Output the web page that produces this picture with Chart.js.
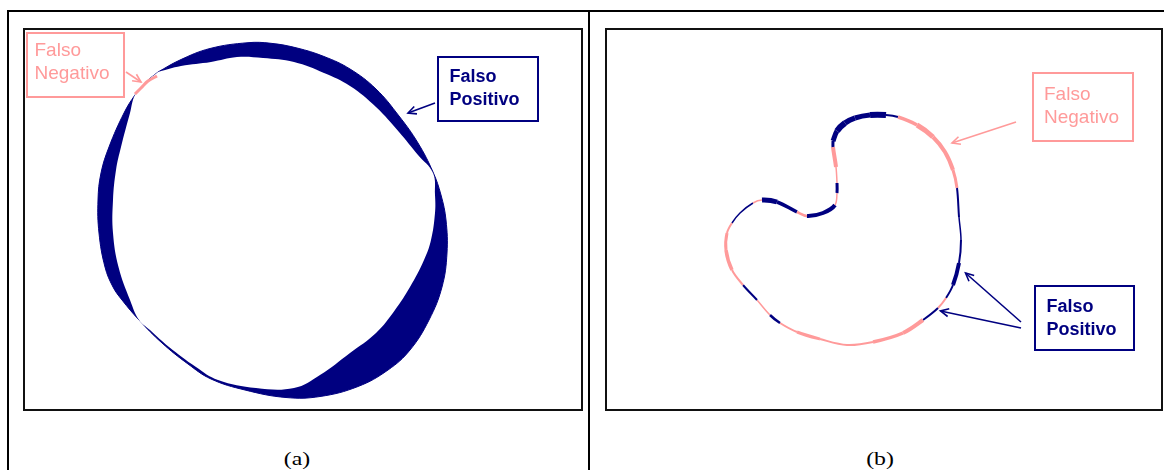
<!DOCTYPE html>
<html><head><meta charset="utf-8">
<script src="https://cdn.jsdelivr.net/npm/chart.js@4"></script>
<style>
html,body{margin:0;padding:0;background:#fff;}
body{width:1164px;height:470px;overflow:hidden;position:relative;}
.rule{position:absolute;background:#000;}
.frame{position:absolute;box-sizing:border-box;border:2px solid #111;}
canvas{position:absolute;}
.box{position:absolute;box-sizing:border-box;border:2px solid;font-family:"Liberation Sans",Arial,sans-serif;line-height:23px;white-space:nowrap;}
.fn{color:#FF9A9A;border-color:#FF9A9A;font-size:19px;}
.fp{color:#000080;border-color:#000080;font-size:18px;font-weight:bold;}
.cap{position:absolute;width:100px;text-align:center;font-family:"Liberation Serif","Times New Roman",serif;font-size:19px;line-height:20px;transform:scaleX(1.25);}
</style>
</head><body>
<div class="rule" style="left:7px;top:10px;width:1157px;height:2px"></div>
<div class="rule" style="left:7px;top:10px;width:2px;height:460px"></div>
<div class="rule" style="left:588px;top:10px;width:2px;height:460px"></div>
<div class="frame" style="left:23px;top:28px;width:560px;height:383px"></div>
<div class="frame" style="left:605px;top:28px;width:558px;height:383px"></div>
<canvas id="chartA" width="556" height="379" style="left:25px;top:30px"></canvas>
<canvas id="chartB" width="554" height="379" style="left:607px;top:30px"></canvas>
<div id="labels"></div>
<script>
// ---------- data (image pixel coordinates) ----------
// Panel (a): outer contour of the segmentation (false-positive band edge)
const aOuterX = [158,180,210,248,271,297,324,350,376,399,418,433,441,446,447,442,429,410,388,358,320,286,245,211,188,162,139,122,113,105,99,98,101,109,124,135,146,158];
const aOuterY = [72,60,48.5,42.7,43.3,48,56.5,69,89,116,143,172,195,220,253,287,320,350,370,386.5,396.5,397.5,390,379,364,343,320,300,287,267,233,200,173,147,113,95,82,72];
// Panel (a): inner contour (reference region edge)
const aInnerX = [158,181,211,237,263,294,324,350,376,399,418,433,435,435,431,424,410,395,376,350,320,294,256,218,196,169,150,139,130,118.5,113,113,116,121,130,135,146,158];
const aInnerY = [72,66,62,57,58,62,73,86,107,132,155,173,195,213,240,260,287,310,333,353,375,388,388,380,367,347,330,320,300,267,233,200,170,147,113,95,82,72];
// Panel (a): false-negative sliver
const aFalseNegX = [135,141,148,157];
const aFalseNegY = [94,88,81,76];

// Panel (b): contour points and per-segment error class / band width
const bContourX = [833,837,845,855,870,886,898,917,933,945,953,957,959,961,959,953,946,938,923,903,873,847,820,797,780,770,757,743,732,726,727,732,740,753,762,777,797,807,823,835,837,837,836,833,833];
const bContourY = [141,131,123,118,115,115,117,125,137,152,170,188,217,240,263,285,298,308,320,333,342,345,339,332,323,315,300,285,270,250,233,223,213,203,200,202,212,216,213,205,193,183,167,147,141];
const bSegmentClass = ['FP','FP','FP','FP','FP','FP','FN','FN','FN','FN','FN','FP','FP','FP','FP','FP','FN','FP','FN','FN','FN','FN','FN','FN','FP','FN','FP','FN','FN','FN','FN','FP','FP','FN','FP','FP','FN','FP','FP','FN','FP','FN','FN','FP'];
const bBandWidth =    [5,6,5.5,5,6,2,3.5,5,4,4,3,2,1.5,2,4,2,2,2,4,3.5,2,2,3,2,2.5,1.5,2,2,3.5,3,2,1.5,1.5,1.5,5,3.5,2.5,4,4,1.5,3,1.5,4,3];

// Annotation arrows (from -> to) and labels
const aArrowFromX = [126,435], aArrowFromY = [72,103], aArrowToX = [141,408], aArrowToY = [82,113], aArrowClass = ['FN','FP'];
const bArrowFromX = [1016,1021,1021], bArrowFromY = [122,322,328], bArrowToX = [952,965.5,940.5], bArrowToY = [143,273,311], bArrowClass = ['FN','FP','FP'];
const classText = {FP: ['Falso','Positivo'], FN: ['Falso','Negativo']};
const panelCaptions = ['(a)','(b)'];

// ---------- styling ----------
const NAVY = '#000080', PINK = '#FF9A9A';
const CLASS_COLOR = {FP: NAVY, FN: PINK};

const pts = (xs, ys) => xs.map((x, i) => ({x, y: ys[i]}));

function arrowPlugin(fx, fy, tx, ty, cls) {
  return {
    id: 'arrows',
    afterDatasetsDraw(chart) {
      const {ctx} = chart, sx = chart.scales.x, sy = chart.scales.y;
      fx.forEach((v, i) => {
        const x0 = sx.getPixelForValue(v), y0 = sy.getPixelForValue(fy[i]);
        const x1 = sx.getPixelForValue(tx[i]), y1 = sy.getPixelForValue(ty[i]);
        const ang = Math.atan2(y1 - y0, x1 - x0), L = 9, s = 0.45;
        ctx.save();
        ctx.strokeStyle = CLASS_COLOR[cls[i]];
        ctx.lineWidth = 1.6;
        ctx.beginPath(); ctx.moveTo(x0, y0); ctx.lineTo(x1, y1); ctx.stroke();
        ctx.beginPath();
        ctx.moveTo(x1 - L * Math.cos(ang - s), y1 - L * Math.sin(ang - s));
        ctx.lineTo(x1, y1);
        ctx.lineTo(x1 - L * Math.cos(ang + s), y1 - L * Math.sin(ang + s));
        ctx.stroke();
        ctx.restore();
      });
    }
  };
}

function makeChart(id, xmin, xmax, ymin, ymax, datasets, plugin) {
  return new Chart(document.getElementById(id), {
    type: 'scatter',
    data: {datasets},
    options: {
      responsive: false, animation: false, events: [],
      layout: {padding: 0},
      scales: {
        x: {type: 'linear', min: xmin, max: xmax, display: false},
        y: {type: 'linear', min: ymin, max: ymax, reverse: true, display: false}
      },
      plugins: {legend: {display: false}, tooltip: {enabled: false}},
      elements: {point: {radius: 0, hoverRadius: 0}}
    },
    plugins: [plugin]
  });
}

makeChart('chartA', 25, 581, 30, 409, [
  {data: pts(aFalseNegX, aFalseNegY), showLine: true, fill: false, borderColor: PINK, borderWidth: 3, tension: 0.3},
  {data: pts(aInnerX, aInnerY), showLine: true, fill: 'shape', backgroundColor: '#fff', borderColor: 'rgba(0,0,0,0)', borderWidth: 1, tension: 0.4},
  {data: pts(aOuterX, aOuterY), showLine: true, fill: 'shape', backgroundColor: NAVY, borderColor: NAVY, borderWidth: 1, tension: 0.4}
], arrowPlugin(aArrowFromX, aArrowFromY, aArrowToX, aArrowToY, aArrowClass));

makeChart('chartB', 607, 1161, 30, 409, [
  {data: pts(bContourX, bContourY), showLine: true, fill: false, tension: 0.35, borderColor: NAVY, borderWidth: 2,
   segment: {
     borderColor: c => CLASS_COLOR[bSegmentClass[c.p0DataIndex]],
     borderWidth: c => bBandWidth[c.p0DataIndex]
   }}
], arrowPlugin(bArrowFromX, bArrowFromY, bArrowToX, bArrowToY, bArrowClass));

// ---------- text labels ----------
const labelSpecs = [
  {cls: 'FN', left: 26, top: 32, w: 99, h: 66, pl: 6.5, pt: 4},
  {cls: 'FP', left: 437, top: 56, w: 102, h: 66, pl: 10.5, pt: 7.3},
  {cls: 'FN', left: 1032, top: 72, w: 102, h: 70, pl: 10, pt: 8},
  {cls: 'FP', left: 1034, top: 285, w: 101, h: 66, pl: 10.5, pt: 8.3}
];
const host = document.getElementById('labels');
labelSpecs.forEach(s => {
  const d = document.createElement('div');
  d.className = 'box ' + s.cls.toLowerCase();
  Object.assign(d.style, {left: s.left + 'px', top: s.top + 'px', width: s.w + 'px', height: s.h + 'px', paddingLeft: s.pl + 'px', paddingTop: s.pt + 'px'});
  d.innerHTML = classText[s.cls].join('<br>');
  host.appendChild(d);
});
[297, 880].forEach((cx, i) => {
  const d = document.createElement('div');
  d.className = 'cap';
  d.style.left = (cx - 50) + 'px';
  d.style.top = '449px';
  d.textContent = panelCaptions[i];
  host.appendChild(d);
});
</script>
</body></html>
